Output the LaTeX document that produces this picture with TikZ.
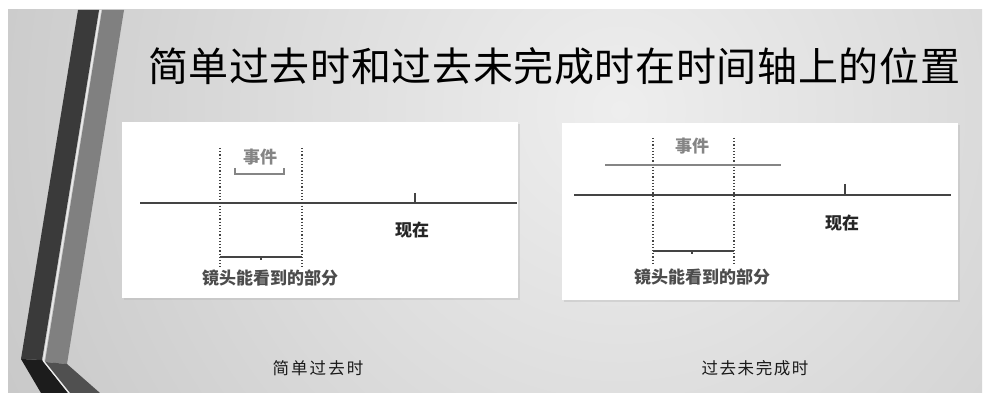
\documentclass[tikz,border=0pt]{standalone}
\usepackage{fontspec}
\newfontfamily\cjk{Noto Sans CJK SC}
\definecolor{bgA}{HTML}{EEEEEE}
\definecolor{bgB}{HTML}{DCDCDC}
\definecolor{bgC}{HTML}{A0A0A0}
\definecolor{axisgray}{HTML}{444444}
\definecolor{eventgray}{HTML}{858585}
\definecolor{stripeDark}{HTML}{3A3A3A}
\definecolor{stripeDarkLow}{HTML}{1C1C1C}
\definecolor{stripeMid}{HTML}{808080}
\definecolor{stripeMidLow}{HTML}{505050}
\pgfdeclareradialshading{slidebg}{\pgfpoint{0bp}{0bp}}{color(0bp)=(bgA); color(12bp)=(bgB); color(50bp)=(bgC)}
\begin{document}
\begin{tikzpicture}[x=1pt,y=-1pt,
  axisline/.style={draw=axisgray, line width=1.6pt},
  tickline/.style={draw=axisgray, line width=1.2pt},
  dotline/.style={draw=axisgray, line width=1.3pt, dash pattern=on 1.3pt off 1.9pt},
  eventline/.style={draw=eventgray, line width=1.4pt},
  lensline/.style={draw=axisgray, line width=1.3pt},
  panel/.style={fill=white},
  lbl/.style={inner sep=0pt, font=\cjk\bfseries\fontsize{17}{17}\selectfont},
  captext/.style={inner sep=0pt, font=\cjk\fontsize{16.5}{16.5}\selectfont, text=black!90}]
\useasboundingbox (0,0) rectangle (983,393);
\fill[white] (0,0) rectangle (983,393);
% slide background
\begin{scope}
  \clip (8,10) rectangle (982,393);
  \shade[shading=slidebg] (620,110) circle (700);
\end{scope}
% decorative stripes
\fill[stripeDark] (78,10) -- (99,10) -- (42,360) -- (21,359) -- cycle;
\fill[stripeDarkLow] (21,359) -- (42,360) -- (68,393) -- (41,393) -- cycle;
\fill[stripeMid] (102,10) -- (124,10) -- (67,364) -- (45,362) -- cycle;
\fill[stripeMidLow] (45,362) -- (67,364) -- (100,393) -- (70,393) -- cycle;
\draw[white!85!gray, line width=1.3pt] (100.5,10) -- (43.5,361) -- (69,393);
% title
\node[inner sep=0pt, font=\cjk\fontsize{40}{40}\selectfont, text=black] (title) at (554,66)
  {\makebox[812pt]{简\hfill 单\hfill 过\hfill 去\hfill 时\hfill 和\hfill 过\hfill 去\hfill 未\hfill 完\hfill 成\hfill 时\hfill 在\hfill 时\hfill 间\hfill 轴\hfill 上\hfill 的\hfill 位\hfill 置}};
% panels
\fill[black!30, opacity=0.35] (124,124) rectangle (520,300);
\fill[black!30, opacity=0.35] (564,125) rectangle (960,302);
\fill[panel] (122,122) rectangle (518,298);
\fill[panel] (562,123) rectangle (958,300);
% ---- left panel: simple past
\coordinate (L-start) at (140,203);
\coordinate (L-end) at (517,203);
\draw[axisline] (L-start) -- (L-end);
\coordinate (L-tickt) at (415,193);
\coordinate (L-tickb) at (415,203);
\draw[tickline] (L-tickt) -- (L-tickb);
\coordinate (L-d1t) at (220,148); \coordinate (L-d1b) at (220,267);
\coordinate (L-d2t) at (302,148); \coordinate (L-d2b) at (302,267);
\draw[dotline] (L-d1t) -- (L-d1b);
\draw[dotline] (L-d2t) -- (L-d2b);
\coordinate (L-e1) at (235,168); \coordinate (L-e2) at (284,168);
\draw[eventline, line width=1.2pt] (L-e1) -- ++(0,6) -| (L-e2);
\node[lbl, text=eventgray] (L-event) at (260,157) {事件};
\coordinate (L-l1) at (220,257); \coordinate (L-l2) at (302,257);
\coordinate (L-lm) at (261,257); \coordinate (L-lmb) at (261,260);
\draw[lensline] (L-l1) -- (L-l2);
\draw[lensline] (L-lm) -- (L-lmb);
\node[lbl, text=black!70] (L-lens) at (270,278) {镜头能看到的部分};
\node[lbl, text=black!85] (L-now) at (412,230) {现在};
% ---- right panel: past continuous
\coordinate (R-start) at (574,195);
\coordinate (R-end) at (951,195);
\draw[axisline] (R-start) -- (R-end);
\coordinate (R-tickt) at (845,184);
\coordinate (R-tickb) at (845,195);
\draw[tickline] (R-tickt) -- (R-tickb);
\coordinate (R-d1t) at (653,138); \coordinate (R-d1b) at (653,263);
\coordinate (R-d2t) at (734,138); \coordinate (R-d2b) at (734,263);
\draw[dotline] (R-d1t) -- (R-d1b);
\draw[dotline] (R-d2t) -- (R-d2b);
\coordinate (R-e1) at (605,165); \coordinate (R-e2) at (781,165);
\draw[eventline] (R-e1) -- (R-e2);
\node[lbl, text=eventgray] (R-event) at (692,146) {事件};
\coordinate (R-l1) at (653,251); \coordinate (R-l2) at (734,251);
\coordinate (R-lm) at (692,251); \coordinate (R-lmb) at (692,254);
\draw[lensline] (R-l1) -- (R-l2);
\draw[lensline] (R-lm) -- (R-lmb);
\node[lbl, text=black!70] (R-lens) at (702,277) {镜头能看到的部分};
\node[lbl, text=black!85] (R-now) at (842,223) {现在};
% captions
\node[captext] (cap1) at (318,368) {\makebox[91pt]{简\hfill 单\hfill 过\hfill 去\hfill 时}};
\node[captext] (cap2) at (755,368) {\makebox[107pt]{过\hfill 去\hfill 未\hfill 完\hfill 成\hfill 时}};
\end{tikzpicture}
\end{document}
